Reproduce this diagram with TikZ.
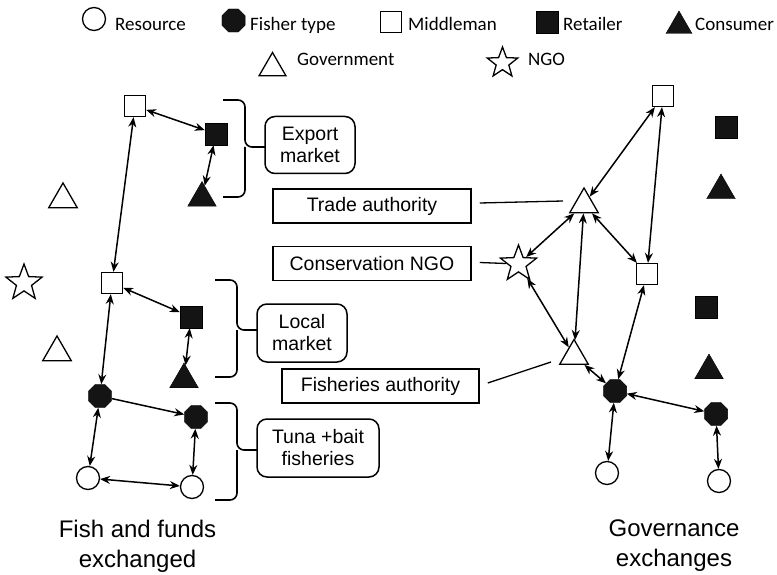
\documentclass[tikz,border=0pt]{standalone}
\usepackage{fontspec}
\setmainfont{Liberation Sans}
\newfontfamily\legendfont{Carlito}
\usetikzlibrary{shapes.geometric,arrows.meta}
\begin{document}
\begin{tikzpicture}[x=1pt,y=-1pt,
  shapeline/.style={line width=1.3pt},
  resource/.style={circle,draw,shapeline,fill=white,minimum size=23pt,inner sep=0pt},
  fisher/.style={regular polygon,regular polygon sides=8,draw,fill=black!92,minimum size=25pt,inner sep=0pt},
  middleman/.style={rectangle,draw,shapeline,fill=white,minimum size=21pt,inner sep=0pt},
  retailer/.style={rectangle,draw,fill=black!92,minimum size=22pt,inner sep=0pt},
  consumer/.style={regular polygon,regular polygon sides=3,draw,fill=black!92,minimum size=33pt,inner sep=0pt},
  govt/.style={regular polygon,regular polygon sides=3,draw,shapeline,fill=white,minimum size=33pt,inner sep=0pt},
  ngo/.style={star,star points=5,star point ratio=2.4,draw,shapeline,fill=white,minimum size=38pt,inner sep=0pt},
  link/.style={line width=1.5pt,{Stealth[length=10pt,width=8pt]}-{Stealth[length=10pt,width=8pt]}},
  oneway/.style={line width=1.5pt,-{Stealth[length=10pt,width=8pt]}},
  plainline/.style={line width=1.3pt},
  brace/.style={line width=1.6pt,rounded corners=7pt},
  group/.style={draw,line width=1.5pt,rounded corners=10pt,align=center,inner sep=0pt,
    font=\fontsize{19.5}{22}\selectfont},
  actor/.style={draw,line width=1.5pt,inner sep=0pt,minimum width=198pt,minimum height=34pt,
    font=\fontsize{19.5}{22}\selectfont},
  legtext/.style={anchor=base west,inner sep=0pt,font=\legendfont\fontsize{19}{22}\selectfont},
  caption/.style={align=center,inner sep=0pt,font=\fontsize{24}{30}\selectfont}]

\useasboundingbox[fill=white] (0,0) rectangle (777,575);

% ---- legend ----
\node[resource] (kres) at (94,19) {};
\node[legtext] (kreslab) at (115,31) {Resource};
\node[fisher] (kfish) at (233.5,20.5) {};
\node[legtext] (kfishlab) at (250,31) {Fisher type};
\node[middleman] (kmid) at (391,22) {};
\node[legtext] (kmidlab) at (408,31) {Middleman};
\node[retailer] (kret) at (547,22) {};
\node[legtext] (kretlab) at (563,31) {Retailer};
\node[consumer,minimum size=30pt] (kcon) at (679,26) {};
\node[legtext] (kconlab) at (695,31) {Consumer};
\node[govt,minimum size=31pt] (kgov) at (272.5,68) {};
\node[legtext] (kgovlab) at (297,66) {Government};
\node[ngo,minimum size=32pt] (kngo) at (502.5,63) {};
\node[legtext] (kngolab) at (528,66) {NGO};

% ---- fish and funds network ----
\node[middleman] (lmid1) at (135,106) {};
\node[retailer]  (lret1) at (216,134) {};
\node[consumer]  (lcon1) at (202,198) {};
\node[govt]      (lgov1) at (63,199.5) {};
\node[ngo]       (lngo)  at (24,283) {};
\node[middleman] (lmid2) at (112,283) {};
\node[retailer]  (lret2) at (191,317) {};
\node[consumer]  (lcon2) at (184,379.5) {};
\node[govt]      (lgov2) at (57,352.5) {};
\node[fisher]    (lfish1) at (100,396) {};
\node[fisher]    (lfish2) at (196,417) {};
\node[resource]  (lres1) at (88,478) {};
\node[resource]  (lres2) at (192,487) {};

\draw[link] (lmid1) -- (lret1);
\draw[link] (lret1) -- (lcon1);
\draw[link] (lmid1) -- (lmid2);
\draw[link] (lmid2) -- (lret2);
\draw[link] (lret2) -- (lcon2);
\draw[link] (lmid2) -- (lfish1);
\draw[oneway] (lfish1) -- (lfish2);
\draw[link] (lfish1) -- (lres1);
\draw[link] (lfish2) -- (lres2);
\draw[link] (lres1) -- (lres2);

% ---- market groups ----
\node[group,minimum width=90pt,minimum height=57pt] (export) at (310,145) {Export\\market};
\node[group,minimum width=90pt,minimum height=58pt] (local) at (302,333) {Local\\market};
\node[group,minimum width=122pt,minimum height=58pt] (tuna) at (318,448) {Tuna +bait\\fisheries};

\draw[brace] (223,100) -- (245,100) -- (245,147) -- (265,147)
             (245,147) -- (245,197) -- (223,197);
\draw[brace] (215,280) -- (237,280) -- (237,330) -- (257,330)
             (237,330) -- (237,377) -- (215,377);
\draw[brace] (215,403) -- (237,403) -- (237,450) -- (257,450)
             (237,450) -- (237,500) -- (215,500);

% ---- governance network ----
\node[middleman] (rmid1) at (663,96) {};
\node[retailer]  (rret1) at (726,127) {};
\node[consumer]  (rcon1) at (721,190.5) {};
\node[govt]      (rgov1) at (584,204.5) {};
\node[ngo]       (rngo)  at (518.5,264) {};
\node[middleman] (rmid2) at (647,274) {};
\node[retailer]  (rret2) at (706,307) {};
\node[consumer]  (rcon2) at (709,370.5) {};
\node[govt]      (rgov2) at (574,356) {};
\node[fisher]    (rfish1) at (615,391) {};
\node[fisher]    (rfish2) at (716,414) {};
\node[resource]  (rres1) at (607,473) {};
\node[resource]  (rres2) at (719,481) {};

\draw[link] (rmid1) -- (rgov1);
\draw[link] (rmid1) -- (rmid2);
\draw[link] (rgov1) -- (rngo);
\draw[link] (rgov1) -- (rmid2);
\draw[link] (rgov1) -- (rgov2);
\draw[link] (rngo) -- (rgov2);
\draw[link] (rgov2) -- (rfish1);
\draw[link] (rmid2) -- (rfish1);
\draw[link] (rfish1) -- (rfish2);
\draw[link] (rfish1) -- (rres1);
\draw[link] (rfish2) -- (rres2);

% ---- actor labels ----
\node[actor] (trade) at (372,206) {Trade authority};
\node[actor] (cons)  at (372,263.5) {Conservation NGO};
\node[actor,minimum width=197pt] (fisheries) at (380.5,386) {Fisheries authority};

\coordinate (tradeend) at (563,201);
\coordinate (fishend) at (551,362);
\draw[plainline] ([shift={(8,-3)}]trade.east) -- (tradeend);
\draw[plainline] ([shift={(8,-1)}]cons.east) -- (rngo);
\draw[plainline] ([shift={(8,-3)}]fisheries.east) -- (fishend);

% ---- captions ----
\node[caption] (leftcap) at (137.5,546) {Fish and funds\\exchanged};
\node[caption] (rightcap) at (674,546) {Governance\\exchanges};
\end{tikzpicture}
\end{document}
